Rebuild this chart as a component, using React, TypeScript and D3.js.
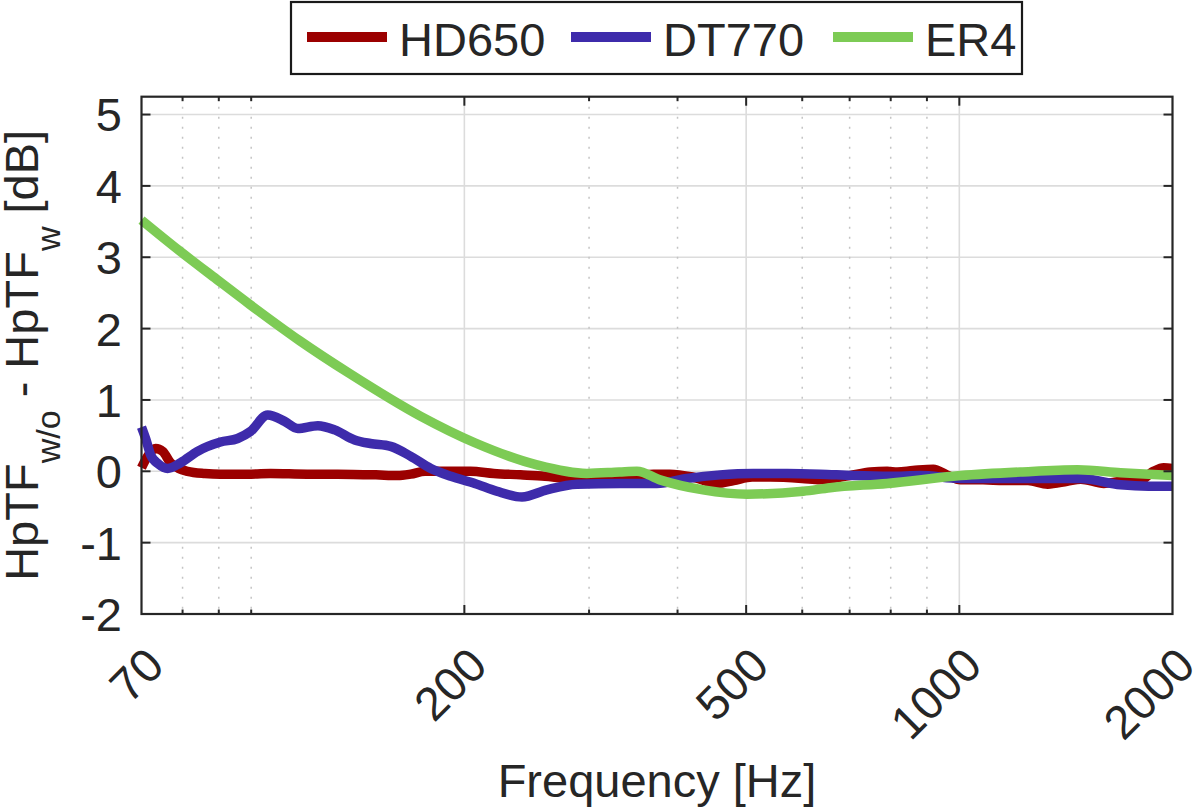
import * as d3 from 'd3';

// HD650 (red)
const hd650Freq = [70, 71.5, 73.3, 75, 76.9, 79, 81.3, 86, 90.5, 100, 106.5, 120, 132.5, 150, 161, 168, 176, 190, 204, 220, 240, 260, 282, 300, 332, 350, 370, 390, 420, 455, 480, 510, 541, 600, 636, 700, 749, 791, 817, 860, 919, 960, 1004, 1080, 1155, 1250, 1333, 1420, 1484, 1600, 1700, 1786, 1880, 1944, 2000];
const hd650Val = [0.05, 0.22, 0.32, 0.28, 0.12, 0.04, 0.0, -0.03, -0.04, -0.04, -0.03, -0.04, -0.04, -0.05, -0.06, -0.04, 0.0, 0.0, 0.0, -0.03, -0.05, -0.07, -0.1, -0.1, -0.08, -0.07, -0.04, -0.04, -0.08, -0.17, -0.13, -0.08, -0.08, -0.1, -0.12, -0.06, -0.01, 0.0, -0.01, 0.01, 0.03, -0.05, -0.12, -0.12, -0.13, -0.13, -0.18, -0.14, -0.11, -0.17, -0.14, -0.15, 0.0, 0.05, 0.04];

// DT770 (blue)
const dt770Freq = [70, 71, 72.1, 74, 76.2, 79.5, 84, 90.5, 95.7, 99.8, 105.5, 111.5, 116.3, 124.2, 131.2, 140, 147.3, 157.4, 168, 179.3, 191.4, 206.9, 222.3, 241.2, 261.5, 288.4, 331.7, 374.1, 412.5, 459.4, 511.4, 571.4, 636, 708, 800, 881, 1004, 1220, 1484, 1690, 1850, 2000];
const dt770Val = [0.62, 0.45, 0.23, 0.1, 0.04, 0.12, 0.28, 0.41, 0.46, 0.56, 0.79, 0.7, 0.6, 0.64, 0.58, 0.44, 0.39, 0.35, 0.21, 0.04, -0.07, -0.17, -0.28, -0.36, -0.26, -0.18, -0.17, -0.17, -0.1, -0.05, -0.03, -0.03, -0.04, -0.06, -0.07, -0.06, -0.1, -0.1, -0.1, -0.19, -0.21, -0.21];

// ER4 (green)
const er4Freq = [70, 79.2, 89.4, 99.5, 117.1, 137.7, 173.6, 206.9, 253.2, 297.9, 331, 350.5, 377.8, 434.6, 501.5, 601.9, 657, 791, 1004, 1220, 1469, 1690, 2000];
const er4Val = [3.52, 3.09, 2.69, 2.34, 1.83, 1.37, 0.77, 0.4, 0.09, -0.03, -0.01, 0.0, -0.12, -0.26, -0.32, -0.28, -0.23, -0.17, -0.06, -0.01, 0.02, -0.02, -0.06];

const seriesNames = ['HD650', 'DT770', 'ER4'];
const seriesColors = ['#9b0000', '#3e2bab', '#7dcb55'];

const xTicks = [70, 200, 500, 1000, 2000];
const xMinor = [80, 90, 100, 300, 400, 600, 700, 800, 900];
const yTicks = [-2, -1, 0, 1, 2, 3, 4, 5];

const W = 1200;
const H = 809;
const FONT = '"Liberation Sans", Arial, Helvetica, sans-serif';
const TXT = '#262626';

export default function App() {
  const left = 141.5, right = 1172.5, top = 96.7, bottom = 614;
  const x = d3.scaleLog().domain([70, 2000]).range([left, right]);
  const y = d3.scaleLinear().domain([-2, 5.25]).range([bottom, top]);

  const line = d3.line<[number, number]>()
    .x((d) => x(d[0]))
    .y((d) => y(d[1]))
    .curve(d3.curveMonotoneX);

  const series = [
    d3.zip(hd650Freq, hd650Val) as [number, number][],
    d3.zip(dt770Freq, dt770Val) as [number, number][],
    d3.zip(er4Freq, er4Val) as [number, number][],
  ];

  const majorX = xTicks.filter((t) => t > 70 && t < 2000);
  const legendX = [307, 571, 833];

  return (
    <svg width={W} height={H} style={{ position: 'absolute', left: 0, top: 0, background: '#fff' }} fontFamily={FONT}>
      <rect x={0} y={0} width={W} height={H} fill="#fff" />
      {/* grid */}
      <g>
        {yTicks.map((t) => (
          <line key={'gy' + t} x1={left} x2={right} y1={y(t)} y2={y(t)} stroke="#dcdcdc" strokeWidth={1.6} />
        ))}
        {majorX.map((t) => (
          <line key={'gx' + t} x1={x(t)} x2={x(t)} y1={top} y2={bottom} stroke="#dcdcdc" strokeWidth={1.6} />
        ))}
        {xMinor.map((t) => (
          <line key={'mx' + t} x1={x(t)} x2={x(t)} y1={top} y2={bottom} stroke="#c4c4c4" strokeWidth={1.5} strokeDasharray="2,8" />
        ))}
      </g>
      {/* data */}
      <g fill="none" strokeLinejoin="round">
        {series.map((s, i) => (
          <path key={seriesNames[i]} d={line(s) ?? ''} stroke={seriesColors[i]} strokeWidth={9.5} />
        ))}
      </g>
      {/* ticks */}
      <g stroke="#262626" strokeWidth={2}>
        {yTicks.map((t) => (
          <g key={'ty' + t}>
            <line x1={left} x2={left + 9} y1={y(t)} y2={y(t)} />
            <line x1={right} x2={right - 9} y1={y(t)} y2={y(t)} />
          </g>
        ))}
        {majorX.map((t) => (
          <g key={'tx' + t}>
            <line x1={x(t)} x2={x(t)} y1={bottom} y2={bottom - 9} />
            <line x1={x(t)} x2={x(t)} y1={top} y2={top + 9} />
          </g>
        ))}
        {xMinor.map((t) => (
          <g key={'tm' + t}>
            <line x1={x(t)} x2={x(t)} y1={bottom} y2={bottom - 4.5} />
            <line x1={x(t)} x2={x(t)} y1={top} y2={top + 4.5} />
          </g>
        ))}
      </g>
      <rect x={left} y={top} width={right - left} height={bottom - top} fill="none" stroke="#262626" strokeWidth={2.2} />
      {/* tick labels */}
      <g fill={TXT} fontSize={47}>
        {yTicks.map((t) => (
          <text key={'ly' + t} x={122} y={y(t)} dy="0.36em" textAnchor="end">{t}</text>
        ))}
        {xTicks.map((t) => (
          <text key={'lx' + t} transform={`translate(${x(t) + 25},${668}) rotate(-45)`} textAnchor="end">{t}</text>
        ))}
      </g>
      {/* axis labels */}
      <text x={(left + right) / 2} y={797} textAnchor="middle" fill={TXT} fontSize={47}>Frequency [Hz]</text>
      <text transform={`translate(38,${(top + bottom) / 2}) rotate(-90)`} textAnchor="middle" fill={TXT} fontSize={47}>
        HpTF
        <tspan fontSize={34} dy={22}>w/o</tspan>
        <tspan dy={-22}>{' - HpTF'}</tspan>
        <tspan fontSize={34} dy={22}>w</tspan>
        <tspan dy={-22}>{' [dB]'}</tspan>
      </text>
      {/* legend */}
      <g>
        <rect x={291} y={2} width={731} height={72} fill="#fff" stroke="#1a1a1a" strokeWidth={2.2} />
        {seriesNames.map((n, i) => (
          <g key={'lg' + n}>
            <line x1={legendX[i]} x2={legendX[i] + 80} y1={37} y2={37} stroke={seriesColors[i]} strokeWidth={10} />
            <text x={legendX[i] + 92} y={56} fill={TXT} fontSize={47}>{n}</text>
          </g>
        ))}
      </g>
    </svg>
  );
}
